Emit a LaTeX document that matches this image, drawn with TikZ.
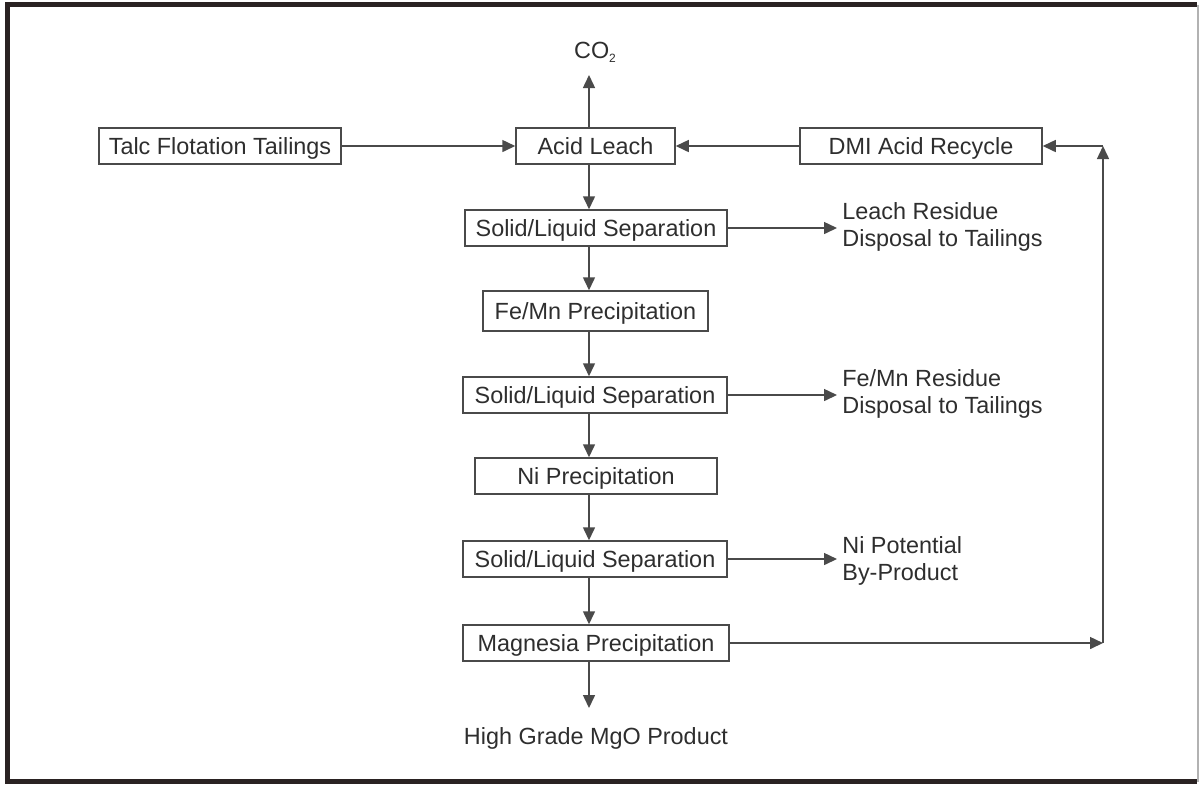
\documentclass[tikz,border=0pt]{standalone}
\usepackage{fontspec}
\setmainfont{Liberation Sans}
\usetikzlibrary{arrows.meta}
\definecolor{ink}{HTML}{2E2E2E}
\definecolor{linec}{HTML}{4A4A4A}
\definecolor{framec}{HTML}{2A2222}
\begin{document}
\begin{tikzpicture}[x=0.5pt,y=-0.5pt,
  box/.style={draw=linec, line width=0.75pt, inner sep=0pt, text=ink,
    text height=9.5pt, text depth=1.1pt,
    font=\fontsize{11.7}{13}\selectfont},
  lbl/.style={text=ink, font=\fontsize{11.7}{13.2}\selectfont, inner sep=0pt},
  flow/.style={draw=linec, line width=0.75pt, -{Triangle[length=6.5pt,width=6pt]}},
  plain/.style={draw=linec, line width=0.75pt}]
\useasboundingbox (0,0) rectangle (1199,784);
% frame
\fill[white] (0,0) rectangle (1199,784);
\draw[framec, line width=2.5pt] (1197,4.5) -- (7.5,4.5) -- (7.5,781.5) -- (1197,781.5);
\draw[gray!60, line width=1pt] (1197.5,4.5) -- (1197.5,781.5);
% boxes
\node[box, minimum width=121pt, minimum height=18pt] (talc) at (220,146) {Talc Flotation Tailings};
\node[box, minimum width=79.5pt, minimum height=18pt] (leach) at (595.5,146) {Acid Leach};
\node[box, minimum width=121pt, minimum height=18pt] (dmi) at (921,146) {DMI Acid Recycle};
\node[box, minimum width=131pt, minimum height=18pt] (sls1) at (596,228) {Solid/Liquid Separation};
\node[box, minimum width=112.5pt, minimum height=20pt] (femn) at (595.5,311) {Fe/Mn Precipitation};
\node[box, minimum width=132pt, minimum height=18pt] (sls2) at (595,395) {Solid/Liquid Separation};
\node[box, minimum width=121pt, minimum height=18pt] (ni) at (596,476) {Ni Precipitation};
\node[box, minimum width=132pt, minimum height=18pt] (sls3) at (595,559) {Solid/Liquid Separation};
\node[box, minimum width=133pt, minimum height=18pt] (mag) at (596,643) {Magnesia Precipitation};
% labels
\node[lbl] (co2) at (595,52) {CO\raisebox{-0.35ex}{\fontsize{6}{7}\selectfont 2}};
\node[lbl, anchor=west, align=left] (lres) at (842,227) {Leach Residue\\Disposal to Tailings};
\node[lbl, anchor=west, align=left] (fres) at (842,394) {Fe/Mn Residue\\Disposal to Tailings};
\node[lbl, anchor=west, align=left] (nibp) at (842,561) {Ni Potential\\By-Product};
\node[lbl] (mgo) at (596,738) {High Grade MgO Product};
% spine and helper coordinates
\coordinate (sp) at (589,0);
\coordinate (co2tip) at (589,75);
\coordinate (mgotip) at (589,708);
\coordinate (rc) at (1103,146);
\coordinate (rb) at (1103,643);
% connectors
\draw[flow] (talc.east) -- (leach.west);
\draw[flow] (dmi.west) -- (leach.east);
\draw[flow] (leach.north -| sp) -- (co2tip);
\draw[flow] (leach.south -| sp) -- (sls1.north -| sp);
\draw[flow] (sls1.south -| sp) -- (femn.north -| sp);
\draw[flow] (femn.south -| sp) -- (sls2.north -| sp);
\draw[flow] (sls2.south -| sp) -- (ni.north -| sp);
\draw[flow] (ni.south -| sp) -- (sls3.north -| sp);
\draw[flow] (sls3.south -| sp) -- (mag.north -| sp);
\draw[flow] (mag.south -| sp) -- (mgotip);
\draw[flow] (sls1.east) -- ([xshift=-2.5pt]lres.west |- sls1.east);
\draw[flow] (sls2.east) -- ([xshift=-2.5pt]fres.west |- sls2.east);
\draw[flow] (sls3.east) -- ([xshift=-2.5pt]nibp.west |- sls3.east);
\draw[flow] (mag.east) -- (rb);
\draw[flow] (rb) -- (rc);
\draw[flow] (rc) -- (dmi.east);
\end{tikzpicture}
\end{document}
